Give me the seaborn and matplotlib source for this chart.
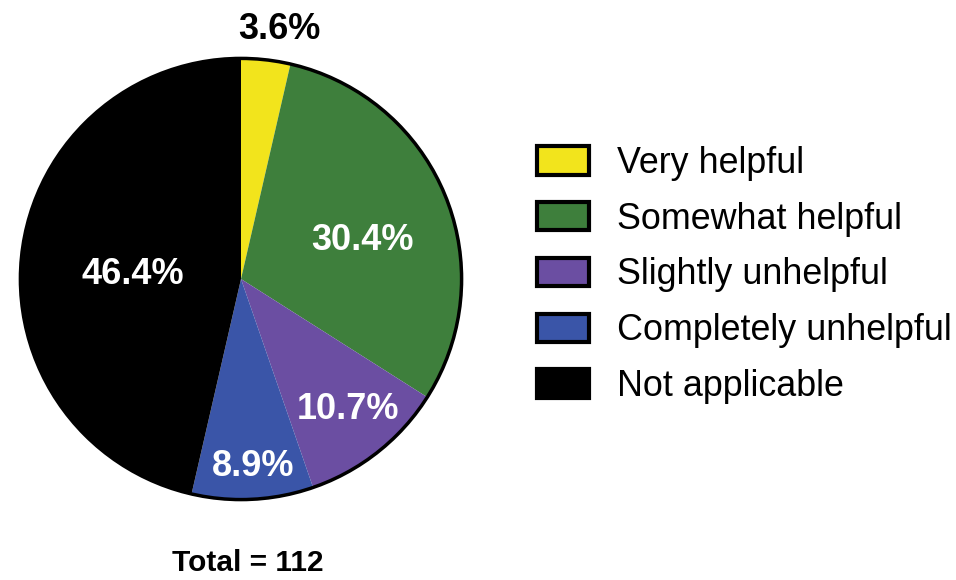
import matplotlib
matplotlib.use("Agg")
import numpy as np
import matplotlib.pyplot as plt
import seaborn as sns
from matplotlib.patches import Patch, Circle

# Survey responses (percent of respondents)
categories = ["Very helpful", "Somewhat helpful", "Slightly unhelpful",
              "Completely unhelpful", "Not applicable"]
percentages = [3.6, 30.4, 10.7, 8.9, 46.4]
total_n = 112

slice_colors = ["#F2E41C", "#3E7F3C", "#6B4EA2", "#3A55A8", "#000000"]
label_colors = ["black", "white", "white", "white", "white"]

# label placement: distance from centre (in radii) and angular nudge (deg)
label_radius = [1.146, 0.578, 0.764, 0.851, 0.493]
label_nudge = [-2.2, -4.9, 1.0, 0.5, 3.9]

sns.set_theme(style="white")
plt.rcParams["font.family"] = ["Liberation Sans", "DejaVu Sans"]
plt.rcParams["text.color"] = "black"

W, H = 956, 580
fig = plt.figure(figsize=(W / 100, H / 100), dpi=100)
fig.patch.set_facecolor("white")

cx, cy, R = 241, 279, 225
ax = fig.add_axes([(cx - R) / W, (H - cy - R) / H, 2 * R / W, 2 * R / H])

wedges, _ = ax.pie(percentages, colors=slice_colors, startangle=90,
                   counterclock=False, radius=1,
                   wedgeprops=dict(linewidth=0, antialiased=True))
ax.add_patch(Circle((0, 0), 1, fill=False, edgecolor="black", lw=2.5, zorder=5))
ax.set_xlim(-1.02, 1.02)
ax.set_ylim(-1.02, 1.02)
ax.set_aspect("equal")
ax.axis("off")

for w, pct, col, r, nudge in zip(wedges, percentages, label_colors,
                                  label_radius, label_nudge):
    mid = np.deg2rad((w.theta1 + w.theta2) / 2 + nudge)
    ax.text(r * np.cos(mid), r * np.sin(mid), f"{pct:.1f}%",
            ha="center", va="center", color=col, fontsize=26,
            fontweight="bold", clip_on=False)

fig.text(248 / W, 1 - 563 / H, f"Total = {total_n}", ha="center",
         va="center", fontsize=21.5, fontweight="bold", color="black")

handles = [Patch(facecolor=c, edgecolor="black", linewidth=3)
           for c in slice_colors]
leg = fig.legend(handles, categories, loc="center left",
                 bbox_to_anchor=(537 / W, 1 - 275 / H), frameon=False,
                 fontsize=25.8, handlelength=1.45, handleheight=0.84,
                 handletextpad=0.78, labelspacing=0.58, borderpad=0,
                 borderaxespad=0)
for t in leg.get_texts():
    t.set_color("black")

fig.savefig("out.png", dpi=100, facecolor="white")
